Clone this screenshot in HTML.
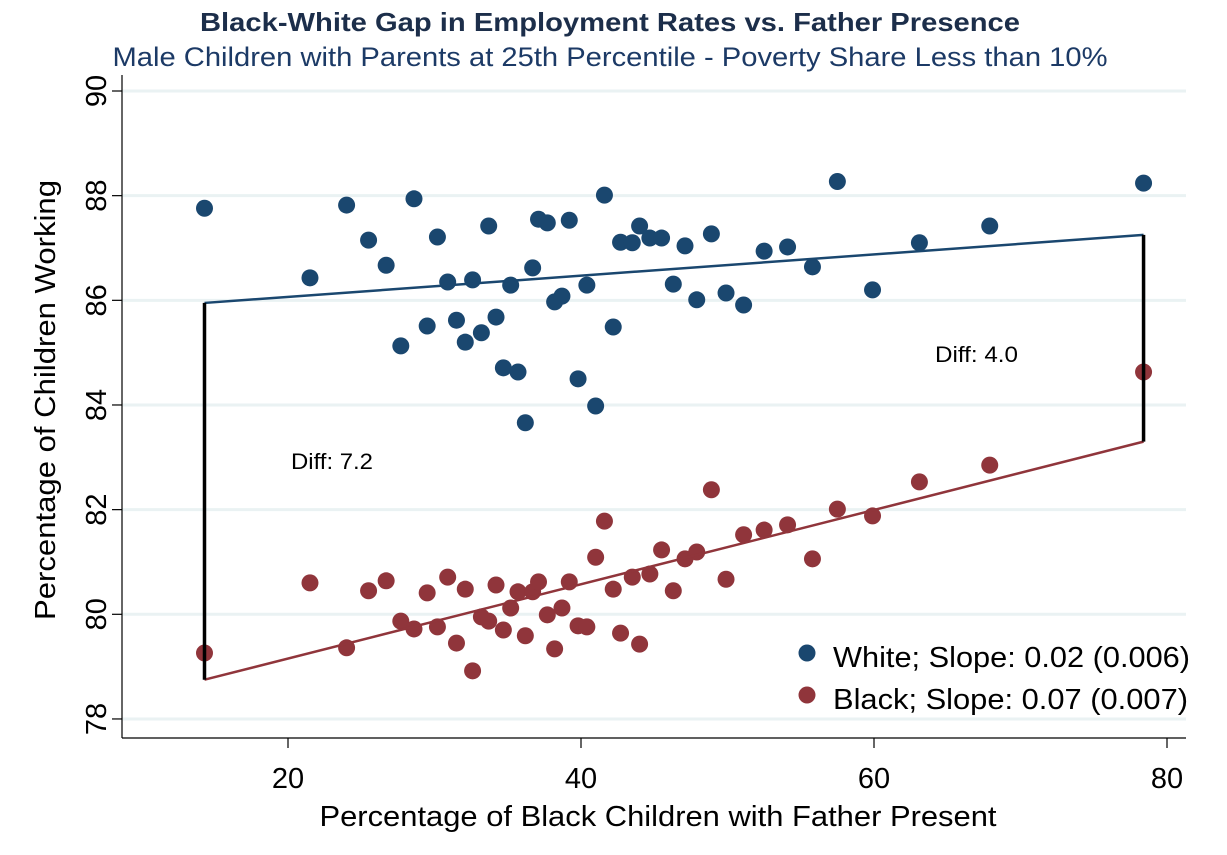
<!DOCTYPE html>
<html><head><meta charset="utf-8"><style>
body{margin:0;background:#fff;}
svg{display:block;font-family:"Liberation Sans",Arial,sans-serif;}
</style></head><body>
<svg id="chart" width="1227" height="855" viewBox="0 0 1227 855">
<rect width="1227" height="855" fill="#fff"/>
<text x="610" y="31" text-anchor="middle" font-size="26" font-weight="bold" fill="#1c2e4a" textLength="820" lengthAdjust="spacingAndGlyphs">Black-White Gap in Employment Rates vs. Father Presence</text>
<text x="610" y="66" text-anchor="middle" font-size="27" fill="#1c3a66" textLength="995" lengthAdjust="spacingAndGlyphs">Male Children with Parents at 25th Percentile - Poverty Share Less than 10%</text>
<g id="grid"></g>
<g id="axes"></g>
<g id="marks"></g>
<text x="658" y="826" text-anchor="middle" font-size="29" fill="#000" textLength="677" lengthAdjust="spacingAndGlyphs">Percentage of Black Children with Father Present</text>
<text transform="translate(55,400) rotate(-90)" text-anchor="middle" font-size="29" fill="#000" textLength="440" lengthAdjust="spacingAndGlyphs">Percentage of Children Working</text>
<text x="291" y="469" font-size="22" fill="#000" textLength="82" lengthAdjust="spacingAndGlyphs">Diff: 7.2</text>
<text x="935" y="362" font-size="22" fill="#000" textLength="83" lengthAdjust="spacingAndGlyphs">Diff: 4.0</text>
<circle cx="807" cy="653" r="8.5" fill="#1a476f"/>
<text x="833" y="667" font-size="29" fill="#000" textLength="357" lengthAdjust="spacingAndGlyphs">White; Slope: 0.02 (0.006)</text>
<circle cx="807" cy="695" r="8.5" fill="#90353b"/>
<text x="833" y="709" font-size="29" fill="#000" textLength="355" lengthAdjust="spacingAndGlyphs">Black; Slope: 0.07 (0.007)</text>
</svg>
<script>
const xTicks=[20,40,60,80];
const yTicks=[78,80,82,84,86,88,90];
const fatherPct=[14.3,21.5,24.0,25.5,26.7,27.7,28.6,29.5,30.2,30.9,31.5,32.1,32.6,33.2,33.7,34.2,34.7,35.2,35.7,36.2,36.7,37.1,37.7,38.2,38.7,39.2,39.8,40.4,41.0,41.6,42.2,42.7,43.5,44.0,44.7,45.5,46.3,47.1,47.9,48.9,49.9,51.1,52.5,54.1,55.8,57.5,59.9,63.1,67.9,78.4];
const whiteVals=[87.76,86.43,87.82,87.15,86.67,85.13,87.94,85.51,87.21,86.35,85.62,85.20,86.39,85.38,87.42,85.68,84.71,86.29,84.63,83.66,86.62,87.55,87.48,85.97,86.08,87.53,84.50,86.29,83.98,88.01,85.49,87.11,87.10,87.42,87.19,87.19,86.31,87.04,86.01,87.27,86.14,85.91,86.94,87.02,86.64,88.27,86.20,87.10,87.42,88.24];
const blackVals=[79.26,80.60,79.36,80.45,80.64,79.87,79.72,80.41,79.76,80.71,79.45,80.48,78.92,79.95,79.87,80.56,79.70,80.12,80.43,79.59,80.43,80.62,79.99,79.34,80.12,80.62,79.78,79.76,81.09,81.78,80.48,79.64,80.71,79.43,80.77,81.23,80.45,81.06,81.19,82.38,80.67,81.52,81.61,81.71,81.06,82.01,81.88,82.53,82.85,84.63];
const fitX=[14.3,78.4];
const whiteFit=[85.95,87.25];
const blackFit=[78.75,83.30];

const NS="http://www.w3.org/2000/svg";
const X=v=>288+(v-20)*14.65;
const Y=v=>91+(90-v)*52.33;
function mk(tag,attrs,parent){const e=document.createElementNS(NS,tag);for(const k in attrs)e.setAttribute(k,attrs[k]);parent.appendChild(e);return e;}
const grid=document.getElementById('grid'),axes=document.getElementById('axes'),marks=document.getElementById('marks');
yTicks.forEach(t=>{
  const g=mk('line',{x1:122,x2:1186,y1:Y(t),y2:Y(t),stroke:'#eaf2f3','stroke-width':3},grid);
  
  
  const tk=mk('line',{x1:112,x2:122,y1:Y(t),y2:Y(t),stroke:'#000','stroke-width':1.2},axes);
  
  
  const lb=mk('text',{transform:`translate(106,${Y(t)}) rotate(-90)`,'text-anchor':'middle','font-size':29},axes);
  lb.textContent=t;
  
  
});
xTicks.forEach(t=>{
  const tk=mk('line',{x1:X(t),x2:X(t),y1:738,y2:748,stroke:'#000','stroke-width':1.2},axes);
  
  
  const lb=mk('text',{x:X(t),y:788,'text-anchor':'middle','font-size':29},axes);
  lb.textContent=t;
  
  
});
const ya=mk('line',{x1:122,x2:122,y1:75,y2:738,stroke:'#000','stroke-width':1.2},axes);


const xa=mk('line',{x1:122,x2:1186,y1:738,y2:738,stroke:'#000','stroke-width':1.2},axes);



fatherPct.forEach((x,i)=>{
  const w=mk('circle',{cx:X(x),cy:Y(whiteVals[i]),r:8.5,fill:'#1a476f'},marks);
  
  
  const b=mk('circle',{cx:X(x),cy:Y(blackVals[i]),r:8.5,fill:'#90353b'},marks);
  
  
});
const wl=mk('line',{x1:X(fitX[0]),y1:Y(whiteFit[0]),x2:X(fitX[1]),y2:Y(whiteFit[1]),stroke:'#1a476f','stroke-width':2.5},marks);


const bl=mk('line',{x1:X(fitX[0]),y1:Y(blackFit[0]),x2:X(fitX[1]),y2:Y(blackFit[1]),stroke:'#90353b','stroke-width':2.5},marks);


[0,1].forEach(i=>{
  const d=mk('line',{x1:X(fitX[i]),x2:X(fitX[i]),y1:Y(whiteFit[i]),y2:Y(blackFit[i]),stroke:'#000','stroke-width':3.5},marks);
  
  
});
</script>
</body></html>
